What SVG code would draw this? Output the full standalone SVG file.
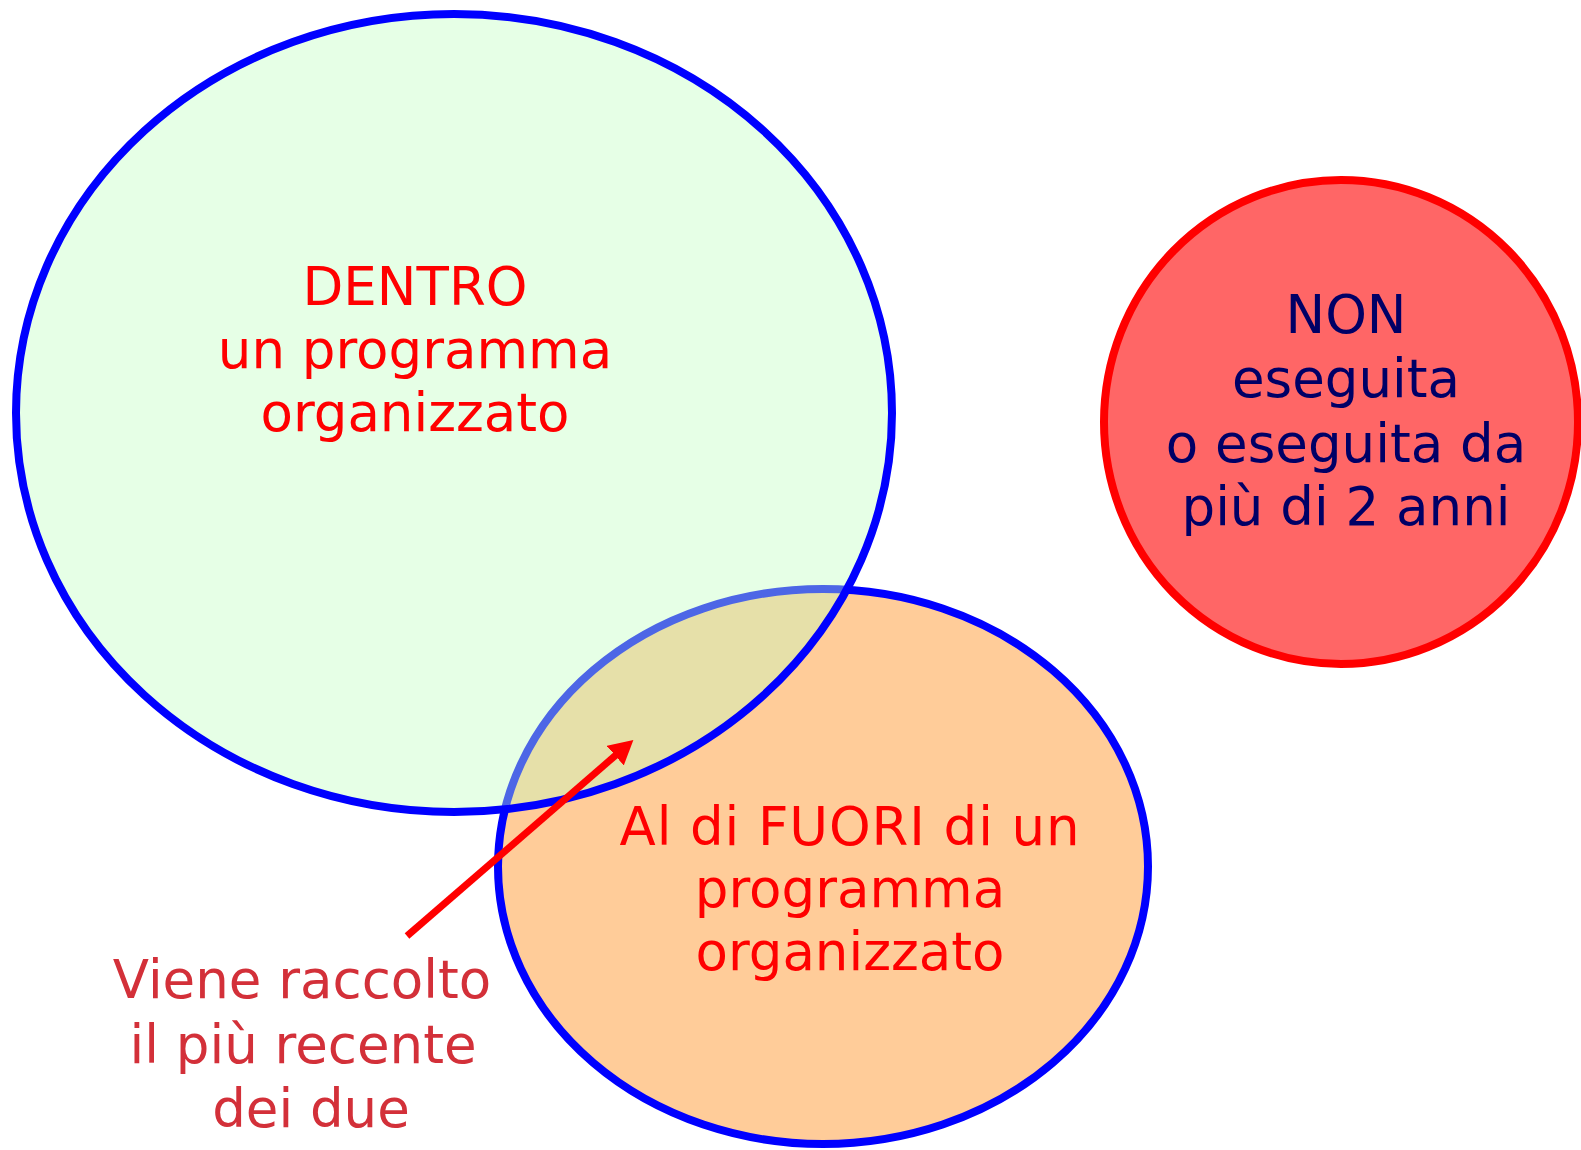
<svg xmlns="http://www.w3.org/2000/svg" width="1581" height="1150" viewBox="0 0 1581 1150">
<style>
text{font-family:"DejaVu Sans","Verdana",sans-serif;font-size:53px;text-anchor:middle}
.red{fill:#FF0000}
.navy{fill:#000066}
.note{fill:#D33039}
</style>
<defs>
<marker id="ah" markerUnits="userSpaceOnUse" viewBox="0 0 24 26" markerWidth="24" markerHeight="26" refX="1" refY="13" orient="auto">
<path d="M0,0 L24,13 L0,26 z" fill="#FF0000"/>
</marker>
</defs>
<rect width="1581" height="1150" fill="#FFFFFF"/>
<g id="fuori">
<ellipse cx="823" cy="866.5" rx="325" ry="277.5" fill="#FFCC99" stroke="#0000FF" stroke-width="8"/>
</g>
<g id="dentro">
<ellipse cx="454" cy="413" rx="438" ry="399" fill="#C0FFC0" fill-opacity="0.4" stroke="#0000FF" stroke-width="8"/>
<text class="red" x="415" y="305">DENTRO</text>
<text class="red" x="415" y="368">un programma</text>
<text class="red" x="415" y="431">organizzato</text>
</g>
<g id="fuori-label">
<text class="red" x="850" y="845" letter-spacing="0.9">Al di FUORI di un</text>
<text class="red" x="850" y="907">programma</text>
<text class="red" x="850" y="970">organizzato</text>
</g>
<g id="non">
<ellipse cx="1341" cy="422" rx="237" ry="242" fill="#FF6666" stroke="#FF0000" stroke-width="8"/>
<text class="navy" x="1346" y="333">NON</text>
<text class="navy" x="1346" y="397">eseguita</text>
<text class="navy" x="1346" y="462">o eseguita da</text>
<text class="navy" x="1346" y="525">più di 2 anni</text>
</g>
<g id="connectors">
<line x1="407" y1="936" x2="616" y2="755" stroke="#FF0000" stroke-width="7" marker-end="url(#ah)"/>
</g>
<g id="nota">
<text class="note" x="302" y="998">Viene raccolto</text>
<text class="note" x="303" y="1063">il più recente</text>
<text class="note" x="311" y="1127">dei due</text>
</g>
</svg>
